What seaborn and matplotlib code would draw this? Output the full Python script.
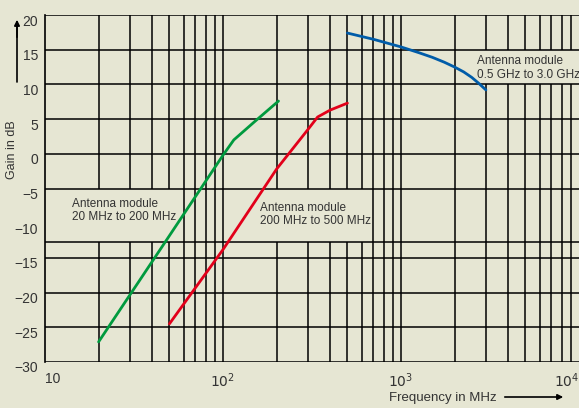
import numpy as np
import pandas as pd
import seaborn as sns
import matplotlib.pyplot as plt
from matplotlib.patches import Rectangle
import matplotlib.transforms as mtransforms

# curve data (frequency in MHz, gain in dB)
freq_20_200 = [20, 50, 100, 115, 150, 205]
gain_20_200 = [-27.1, -11.8, -0.2, 2.0, 4.6, 7.6]

freq_200_500 = [50, 100, 200, 300, 340, 400, 500]
gain_200_500 = [-24.5, -13.8, -2.2, 3.5, 5.3, 6.3, 7.3]

freq_500_3000 = [500, 700, 1000, 1250, 1500, 1750, 2000, 2250, 2500, 2750, 3000]
gain_500_3000 = [17.4, 16.5, 15.4, 14.6, 13.9, 13.2, 12.5, 11.8, 11.0, 10.1, 9.2]

x_ticks = [10, 100, 1000, 10000]
x_tick_labels = ["10", "$10^2$", "$10^3$", "$10^4$"]
y_ticks = [20, 15, 10, 5, 0, -5, -10, -15, -20, -25, -30]
# the reference draws its line below -5 at about -12.7 dB, not at -10
h_grid = [20, 15, 10, 5, 0, -5, -12.7, -15, -20, -25, -30]

bg = "#e6e6d3"
fg = "#333333"

sns.set_style("white")
plt.rcParams['font.family'] = ['Liberation Sans', 'DejaVu Sans']
plt.rcParams['axes.unicode_minus'] = True

fig = plt.figure(figsize=(5.79, 4.08), dpi=100, facecolor=bg)
ax = fig.add_axes([45 / 579, 46 / 408, 534 / 579, 347 / 408])
ax.set_facecolor(bg)
ax.set_xscale("log")
ax.set_xlim(10, 10000)
ax.set_ylim(-30, 20)

# grid: vertical log lines below the label boxes, horizontal lines above
for dec in [10, 100, 1000]:
    for m in range(1, 10):
        v = dec * m
        if 10 < v < 10000:
            ax.axvline(v, color="black", lw=1.1, zorder=1)
for h in h_grid:
    ax.axhline(h, color="black", lw=1.1, zorder=3)

# label boxes hide the vertical grid lines
boxes = [(10, 55, -12.7, -5), (125, 650, -12.7, -5), (2300, 10000, 10, 15)]
for x0, x1, y0, y1 in boxes:
    ax.add_patch(Rectangle((x0, y0), x1 - x0, y1 - y0, facecolor=bg,
                           edgecolor="none", zorder=2))

curves = [
    (freq_20_200, gain_20_200, "#009a3e"),
    (freq_200_500, gain_200_500, "#e2001a"),
    (freq_500_3000, gain_500_3000, "#005ca9"),
]
for xs, ys, c in curves:
    df = pd.DataFrame({"f": xs, "g": ys})
    sns.lineplot(data=df, x="f", y="g", color=c, lw=2, ax=ax, zorder=4)

txt = dict(fontsize=8.5, color=fg, va="top", ha="left",
           linespacing=1.15, zorder=5)
ax.text(14.2, -6.3, "Antenna module\n20 MHz to 200 MHz", **txt)
ax.text(161, -6.9, "Antenna module\n200 MHz to 500 MHz", **txt)
ax.text(2670, 14.2, "Antenna module\n0.5 GHz to 3.0 GHz", **txt)

ax.set_xticks(x_ticks)
ax.set_xticklabels(x_tick_labels)
ax.xaxis.set_minor_locator(plt.NullLocator())
ax.set_yticks(y_ticks)
ax.tick_params(length=0, labelsize=10, colors=fg)
ax.tick_params(axis="x", pad=7)
ax.tick_params(axis="y", pad=5)
ax.get_xticklabels()[0].set_ha("left")
ax.get_xticklabels()[-1].set_ha("right")
off = mtransforms.ScaledTranslation(0, -5 / 100, fig.dpi_scale_trans)
for lab in ax.get_yticklabels():
    lab.set_transform(lab.get_transform() + off)

ax.set_xlabel("")
ax.set_ylabel("")
for s in ["right", "bottom", "top"]:
    ax.spines[s].set_visible(False)
ax.spines["left"].set_color("black")
ax.spines["left"].set_linewidth(1.2)

# axis titles with arrows
fig.text(12 / 579, 1 - 150 / 408, "Gain in dB", rotation=90, ha="center",
         va="center", fontsize=9, color=fg)
fig.add_artist(plt.Line2D([17 / 579, 17 / 579], [1 - 82 / 408, 1 - 25 / 408],
                          color="black", lw=1.2))
ax.annotate("", xy=(17 / 579, 1 - 17 / 408), xytext=(17 / 579, 1 - 40 / 408),
            xycoords="figure fraction",
            arrowprops=dict(arrowstyle="-|>", color="black", lw=1.2,
                            mutation_scale=8))
fig.text(497 / 579, 1 - 398 / 408, "Frequency in MHz", ha="right",
         va="center", fontsize=9.5, color=fg)
ax.annotate("", xy=(566 / 579, 1 - 397 / 408), xytext=(502 / 579, 1 - 397 / 408),
            xycoords="figure fraction",
            arrowprops=dict(arrowstyle="-|>", color="black", lw=1.2,
                            mutation_scale=8))

fig.savefig("out.png", dpi=100, facecolor=bg)
